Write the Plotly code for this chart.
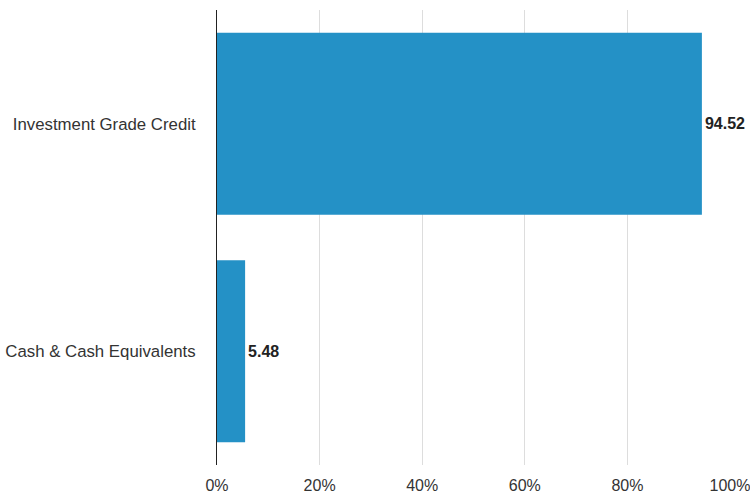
import plotly.graph_objects as go

categories = ["Cash & Cash Equivalents", "Investment Grade Credit"]
values = [5.48, 94.52]
value_labels = ["5.48", "94.52"]
tick_vals = [0, 20, 40, 60, 80, 100]
tick_text = ["0%", "20%", "40%", "60%", "80%", "100%"]

FONT = "Liberation Sans, Arial, sans-serif"

fig = go.Figure(go.Bar(
    y=categories,
    x=values,
    orientation="h",
    marker=dict(color="#2491c6", line=dict(width=0)),
    text=value_labels,
    textposition="outside",
    textfont=dict(family=FONT, size=16, color="#222222", weight="bold"),
    cliponaxis=False,
))

fig.update_layout(
    width=750, height=494,
    margin=dict(l=217, r=20, t=10, b=29, autoexpand=False),
    paper_bgcolor="white",
    plot_bgcolor="white",
    bargap=0.2,
    showlegend=False,
    font=dict(family=FONT, size=16, color="#333333"),
)
fig.update_xaxes(
    range=[0, 100],
    tickvals=tick_vals,
    ticktext=tick_text,
    showgrid=True,
    gridcolor="#dddddd",
    gridwidth=1,
    zeroline=False,
    showline=False,
    ticks="",
    automargin=False,
    ticklabeloverflow="allow",
    ticklabelstandoff=9,
    tickfont=dict(family=FONT, size=16, color="#333333"),
)
fig.update_yaxes(
    showgrid=False,
    showline=True,
    linecolor="#222222",
    linewidth=1,
    ticks="",
    automargin=False,
    ticklabelstandoff=17,
    tickfont=dict(family=FONT, size=16.8, color="#333333"),
)

fig.write_html(
    "out.html",
    config={"displayModeBar": False},
    post_script="document.body.style.margin='0';document.body.style.overflow='hidden';",
)
